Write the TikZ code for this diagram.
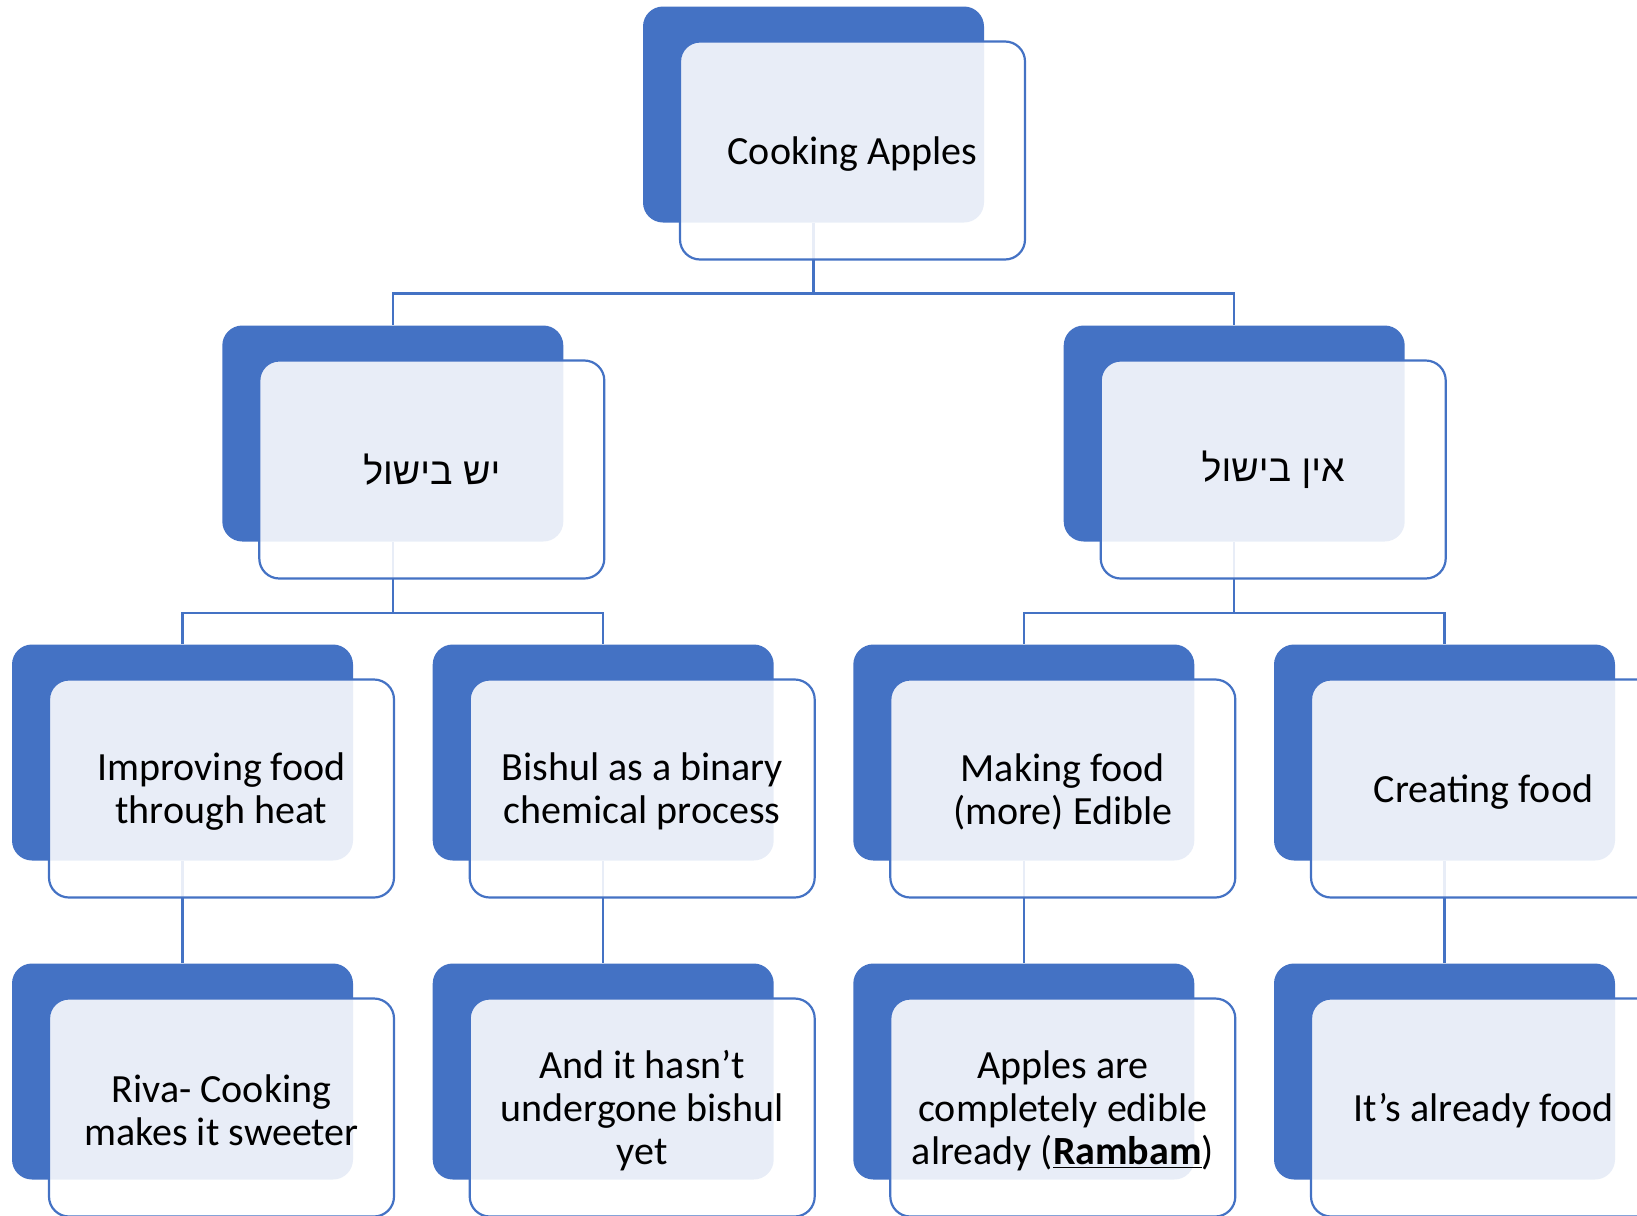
\documentclass[tikz,border=0pt]{standalone}
\usepackage{fontspec}
\setmainfont{Carlito}
\newfontfamily\hebfont[Script=Hebrew]{Liberation Sans}
\TeXXeTstate=1
\definecolor{accent}{HTML}{4472C4}
\begin{document}
\begin{tikzpicture}[x=0.5pt,y=-0.5pt,
  darkbox/.style={fill=accent, rounded corners=10pt, minimum width=170.5pt, minimum height=108pt, inner sep=0pt},
  frontbox/.style={fill=white, fill opacity=0.88, draw=accent, line width=1.1pt,
    rounded corners=10pt, minimum width=172.5pt, minimum height=109pt, inner sep=0pt},
  txt/.style={align=center, inner sep=0pt, yshift=-1.6pt, font=\fontsize{20}{21.5}\selectfont},
  hebtxt/.style={align=center, inner sep=0pt, font=\fontsize{18.8}{21.5}\selectfont\hebfont},
  conn/.style={draw=accent, line width=1.15pt}]
\useasboundingbox (0,0) rectangle (1637,1215);
\clip (0,0) rectangle (1637,1215);
% back boxes
\node[darkbox] (d0) at (813.5,114.5) {};
\node[darkbox] (d1) at (392.8,433.5) {};
\node[darkbox] (d2) at (1234.2,433.5) {};
\node[darkbox] (d3) at (182.5,752.5) {};
\node[darkbox] (d4) at (603.2,752.5) {};
\node[darkbox] (d5) at (1023.8,752.5) {};
\node[darkbox] (d6) at (1444.5,752.5) {};
\node[darkbox] (d7) at (182.5,1071.5) {};
\node[darkbox] (d8) at (603.2,1071.5) {};
\node[darkbox] (d9) at (1023.8,1071.5) {};
\node[darkbox] (d10) at (1444.5,1071.5) {};
% connectors
\draw[conn] (d0.south) -- ++(0,70.5) coordinate (b0) -| (d1.north);
\draw[conn] (b0) -| (d2.north);
\draw[conn] (d1.south) -- ++(0,71) coordinate (b1) -| (d3.north);
\draw[conn] (b1) -| (d4.north);
\draw[conn] (d2.south) -- ++(0,71) coordinate (b2) -| (d5.north);
\draw[conn] (b2) -| (d6.north);
\draw[conn] (d3.south) -- (d7.north);
\draw[conn] (d4.south) -- (d8.north);
\draw[conn] (d5.south) -- (d9.north);
\draw[conn] (d6.south) -- (d10.north);
% front boxes
\node[frontbox] (f0) at (852.5,150.5) {};
\node[frontbox] (f1) at (431.8,469.5) {};
\node[frontbox] (f2) at (1273.2,469.5) {};
\node[frontbox] (f3) at (221.5,788.5) {};
\node[frontbox] (f4) at (642.2,788.5) {};
\node[frontbox] (f5) at (1062.8,788.5) {};
\node[frontbox] (f6) at (1483.5,788.5) {};
\node[frontbox] (f7) at (221.5,1107.5) {};
\node[frontbox] (f8) at (642.2,1107.5) {};
\node[frontbox] (f9) at (1062.8,1107.5) {};
\node[frontbox] (f10) at (1483.5,1107.5) {};
% texts
\node[txt] (t0) at (f0) {Cooking Apples};
\node[hebtxt] (t1) at (f1) {\beginR יש בישול\endR};
\node[hebtxt] (t2) at (f2) {\beginR אין בישול\endR};
\node[txt] (t3) at (f3) {Improving food\\through heat};
\node[txt] (t4) at (f4) {Bishul as a binary\\chemical process};
\node[txt] (t5) at (f5) {Making food\\(more) Edible};
\node[txt] (t6) at (f6) {Creating food};
\node[txt] (t7) at (f7) {Riva- Cooking\\makes it sweeter};
\node[txt] (t8) at (f8) {And it hasn’t\\undergone bishul\\yet};
\node[txt] (t9) at (f9) {Apples are\\completely edible\\already (\textbf{\underline{Rambam}})};
\node[txt] (t10) at (f10) {It’s already food};
\end{tikzpicture}
\end{document}
